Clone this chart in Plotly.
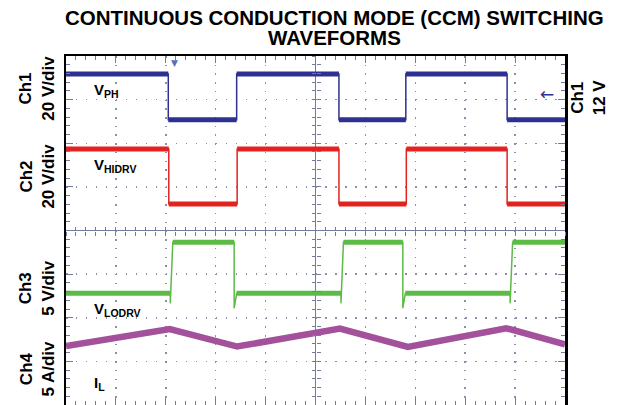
import plotly.graph_objects as go

# ---- data (scope divisions; 0 = screen centre, 10 div wide, 8 div tall) ----
X_SPAN = [-5, 5]
Y_SPAN = [-4, 4]

VPH_EDGES = [-2.95, -1.58, 0.47, 1.81, 3.84]
VPH_HI, VPH_LO = 3.59, 2.54

VHI_EDGES = [-2.94, -1.57, 0.47, 1.82, 3.84]
VHI_HI, VHI_LO = 1.87, 0.61

VLO_EDGES = [-2.91, -1.63, 0.51, 1.75, 3.90]
VLO_HI, VLO_LO = -0.27, -1.44
VLO_SPIKE = [-1.67, -1.78, -1.67, -1.78, -1.67]

IL_X = [-5.0, -2.92, -1.57, 0.49, 1.85, 3.82, 5.0]
IL_Y = [-2.65, -2.26, -2.66, -2.25, -2.67, -2.24, -2.61]

BLUE = "#2E3192"
RED = "#E2231F"
GREEN = "#5CBB46"
MAGENTA = "#A4519C"
GRID = "#8A90AC"
TICK = "#737A9C"
FONT = "Liberation Sans, Arial, sans-serif"


def square(edges, hi, lo, start_high, rise=0.0, spikes=None):
    """full waveform path (thin) and flat segments (thick)"""
    x0, x1 = X_SPAN
    lvl_hi = start_high
    xs, ys = [x0], [hi if lvl_hi else lo]
    fx, fy = [], []
    seg_start = x0
    for i, e in enumerate(edges):
        cur = hi if lvl_hi else lo
        nxt = lo if lvl_hi else hi
        fx += [seg_start, e, None]
        fy += [cur, cur, None]
        xs += [e]
        ys += [cur]
        if spikes is not None:
            xs += [e]
            ys += [spikes[i]]
        xs += [e + rise]
        ys += [nxt]
        seg_start = e + rise
        lvl_hi = not lvl_hi
    end = hi if lvl_hi else lo
    xs += [x1]
    ys += [end]
    fx += [seg_start, x1, None]
    fy += [end, end, None]
    return xs, ys, fx, fy


fig = go.Figure()

for edges, hi, lo, start_high, col, rise, spk in [
    (VPH_EDGES, VPH_HI, VPH_LO, True, BLUE, 0.0, None),
    (VHI_EDGES, VHI_HI, VHI_LO, True, RED, 0.0, None),
    (VLO_EDGES, VLO_HI, VLO_LO, False, GREEN, 0.05, VLO_SPIKE),
]:
    xs, ys, fx, fy = square(edges, hi, lo, start_high, rise, spk)
    fig.add_trace(go.Scatter(x=fx, y=fy, mode="lines",
                             line=dict(color=col, width=5), hoverinfo="skip"))
    fig.add_trace(go.Scatter(x=xs, y=ys, mode="lines",
                             line=dict(color=col, width=1.5), hoverinfo="skip"))

fig.add_trace(go.Scatter(x=IL_X, y=IL_Y, mode="lines",
                         line=dict(color=MAGENTA, width=6.5), hoverinfo="skip"))

# empty traces so the centre-line tick axes exist
for xa, ya in [("x2", "y"), ("x3", "y"), ("x", "y2"), ("x", "y3")]:
    fig.add_trace(go.Scatter(x=[], y=[], xaxis=xa, yaxis=ya, hoverinfo="skip"))

common = dict(showticklabels=False, ticks="inside", ticklen=7, tickwidth=1,
              tickcolor=TICK, showline=True, linecolor="black", linewidth=2.5,
              mirror="ticks", zeroline=True, zerolinecolor=TICK, zerolinewidth=1.6,
              showgrid=True, gridcolor=GRID, gridwidth=1.5, fixedrange=True,
              automargin=False)

centre = dict(dtick=0.2, ticklen=4, tickcolor=TICK, showticklabels=False,
              showgrid=False, zeroline=False, showline=False, automargin=False)

fig.update_layout(
    width=633, height=405,
    margin=dict(l=66, r=68, t=56, b=0),
    paper_bgcolor="white", plot_bgcolor="white",
    showlegend=False,
    xaxis=dict(range=X_SPAN, dtick=1, griddash="1.5px,7.22px",
               minor=dict(dtick=0.2, ticks="inside", ticklen=4, tickcolor=TICK,
                          showgrid=False),
               **common),
    yaxis=dict(range=Y_SPAN, dtick=1, griddash="1.5px,8.48px",
               minor=dict(dtick=0.2, ticks="inside", ticklen=4, tickcolor=TICK,
                          showgrid=False),
               **common),
    xaxis2=dict(overlaying="x", anchor="free", position=0.5, range=X_SPAN,
                ticks="outside", **centre),
    xaxis3=dict(overlaying="x", anchor="free", position=0.5, range=X_SPAN,
                ticks="inside", **centre),
    yaxis2=dict(overlaying="y", anchor="free", position=0.5, range=Y_SPAN,
                ticks="outside", **centre),
    yaxis3=dict(overlaying="y", anchor="free", position=0.5, range=Y_SPAN,
                ticks="inside", **centre),
)

anns = []
# title
for txt, yp in [("CONTINUOUS CONDUCTION MODE (CCM) SWITCHING", 1.110),
                ("WAVEFORMS", 1.053)]:
    anns.append(dict(text=f"<b>{txt}</b>", x=0.539, y=yp, xref="paper", yref="paper",
                     showarrow=False, xanchor="center", yanchor="middle",
                     font=dict(family=FONT, size=20.5, color="black")))
# channel scale labels
for txt, xp, yp in [("Ch1<br>20 V/div", -0.059, 0.908),
                    ("Ch2<br>20 V/div", -0.059, 0.656),
                    ("Ch3<br>5 V/div", -0.059, 0.335),
                    ("Ch4<br>5 A/div", -0.059, 0.103),
                    ("Ch1<br>12 V", 1.047, 0.883)]:
    anns.append(dict(text=f"<b>{txt}</b>", x=xp, y=yp, xref="paper", yref="paper",
                     showarrow=False, textangle=-90, xanchor="center", yanchor="middle",
                     font=dict(family=FONT, size=17, color="black")))
# trace names
for txt, yv in [("V<sub>PH</sub>", 3.22), ("V<sub>HIDRV</sub>", 1.48),
                ("V<sub>LODRV</sub>", -1.80), ("I<sub>L</sub>", -3.50)]:
    anns.append(dict(text=f"<b>{txt}</b>", x=-4.48, y=yv, xref="x", yref="y",
                     showarrow=False, xanchor="left", yanchor="middle",
                     font=dict(family=FONT, size=15, color="black")))
# ground-level arrow and trigger marker
anns.append(dict(text="←", x=0.982, y=0.925, xref="paper", yref="paper",
                 showarrow=False, font=dict(family="DejaVu Sans", size=17, color=BLUE)))
anns.append(dict(text="▼", x=0.207, y=1.0, xref="paper", yref="paper",
                 showarrow=False, yanchor="top",
                 font=dict(family="DejaVu Sans", size=9, color="#5B6FB8")))
fig.update_layout(annotations=anns)

fig.write_html("out.html",
               config={"displayModeBar": False, "staticPlot": True},
               post_script="document.body.style.margin='0';"
                           "document.body.style.overflow='hidden';")
